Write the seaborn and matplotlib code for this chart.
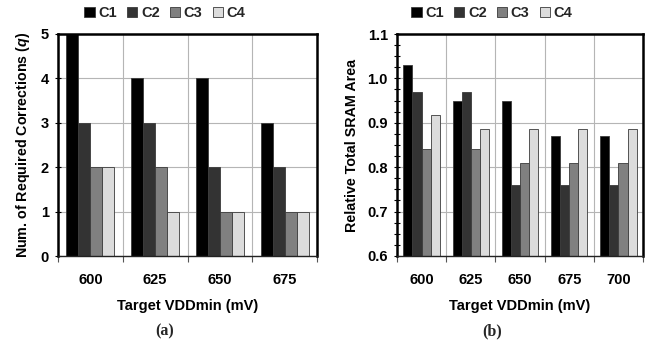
import numpy as np
import pandas as pd
import matplotlib
matplotlib.use("Agg")
import matplotlib.pyplot as plt
import seaborn as sns
from matplotlib.ticker import MultipleLocator, FormatStrFormatter
from matplotlib.patches import Patch

sns.set_theme(style="white")
plt.rcParams['font.family'] = ['Liberation Sans', 'DejaVu Sans']
plt.rcParams['mathtext.fontset'] = 'custom'
plt.rcParams['mathtext.bfit'] = 'Liberation Sans:bold:italic'

series = ["C1", "C2", "C3", "C4"]
colors = ["#000000", "#333333", "#808080", "#dcdcdc"]

vdd_a = ["600", "625", "650", "675"]
c1_a = [5, 4, 4, 3]
c2_a = [3, 3, 2, 2]
c3_a = [2, 2, 1, 1]
c4_a = [2, 1, 1, 1]

vdd_b = ["600", "625", "650", "675", "700"]
c1_b = [1.03, 0.95, 0.95, 0.87, 0.87]
c2_b = [0.97, 0.97, 0.76, 0.76, 0.76]
c3_b = [0.84, 0.84, 0.81, 0.81, 0.81]
c4_b = [0.917, 0.886, 0.886, 0.886, 0.886]

xlabel = "Target VDDmin (mV)"
ylabel_a = "Num. of Required Corrections ($\\boldsymbol{q}$)"
ylabel_b = "Relative Total SRAM Area"


def long_df(cats, vals):
    rows = []
    for s, v in zip(series, vals):
        for c, y in zip(cats, v):
            rows.append({"VDD": c, "Series": s, "Value": y})
    return pd.DataFrame(rows)


df_a = long_df(vdd_a, [c1_a, c2_a, c3_a, c4_a])
df_b = long_df(vdd_b, [c1_b, c2_b, c3_b, c4_b])

fig = plt.figure(figsize=(6.54, 3.49), dpi=100)
ax_a = fig.add_axes([58 / 654, 93 / 349, 259 / 654, 222 / 349])
ax_b = fig.add_axes([397 / 654, 93 / 349, 246 / 654, 222 / 349])

TICK_FS = 10.5
LABEL_FS = 10.5


def draw(ax, df, cats, ylim, major, minor, fmt, ylabel, ylabel_fs):
    sns.barplot(data=df, x="VDD", y="Value", hue="Series", order=cats,
                hue_order=series, palette=colors, width=0.74,
                edgecolor="#3a3a3a", linewidth=0.6, saturation=1,
                legend=False, ax=ax)
    n = len(cats)
    ax.set_xlim(-0.5, n - 0.5)
    ax.set_ylim(*ylim)
    ax.yaxis.set_major_locator(MultipleLocator(major))
    if minor:
        ax.yaxis.set_minor_locator(MultipleLocator(minor))
    ax.yaxis.set_major_formatter(FormatStrFormatter(fmt))
    ax.set_xticks(np.arange(n))
    ax.set_xticks(np.arange(n + 1) - 0.5, minor=True)
    ax.grid(True, which="major", axis="y", color="#b5b5b5", lw=0.8)
    ax.grid(True, which="minor", axis="x", color="#b5b5b5", lw=0.8)
    ax.set_axisbelow(True)
    ax.tick_params(axis="x", which="major", length=0, pad=12)
    ax.tick_params(axis="x", which="minor", length=4, width=0.8,
                   color="#555555", direction="out", bottom=True)
    ax.tick_params(axis="y", which="both", direction="inout", left=True,
                   color="black", width=0.8)
    ax.tick_params(axis="y", which="major", length=5, pad=4)
    ax.tick_params(axis="y", which="minor", length=5)
    for lab in ax.get_xticklabels() + ax.get_yticklabels():
        lab.set_fontweight("bold")
        lab.set_fontsize(TICK_FS)
        lab.set_color("black")
    for side in ["left", "top", "right"]:
        ax.spines[side].set_color("black")
        ax.spines[side].set_linewidth(1.8)
    ax.spines["bottom"].set_color("#222222")
    ax.spines["bottom"].set_linewidth(1.0)
    ax.set_xlabel(xlabel, labelpad=9, fontweight="bold", fontsize=LABEL_FS,
                  color="black")
    ax.set_ylabel(ylabel, labelpad=6, fontweight="bold", fontsize=ylabel_fs,
                  color="black")


draw(ax_a, df_a, vdd_a, (0, 5), 1, None, "%d", ylabel_a, 10.3)
draw(ax_b, df_b, vdd_b, (0.6, 1.1), 0.1, 0.025, "%.1f", ylabel_b, 10.3)

handles = [Patch(facecolor=c, edgecolor="#3a3a3a", linewidth=0.6) for c in colors]
for xc in (165 / 654, 492 / 654):
    fig.legend(handles, series, loc="center", bbox_to_anchor=(xc, 1 - 13 / 349),
               ncol=4, frameon=False, handlelength=0.7, handleheight=0.7,
               handletextpad=0.25, columnspacing=0.7, borderpad=0,
               prop=dict(weight="bold", size=10.5))

for xc, cap in ((165 / 654, "(a)"), (492 / 654, "(b)")):
    fig.text(xc, 1 - 331 / 349, cap, ha="center", va="center",
             fontfamily="Liberation Serif", fontweight="bold", fontsize=11.5)

fig.savefig("out.png", dpi=100)
